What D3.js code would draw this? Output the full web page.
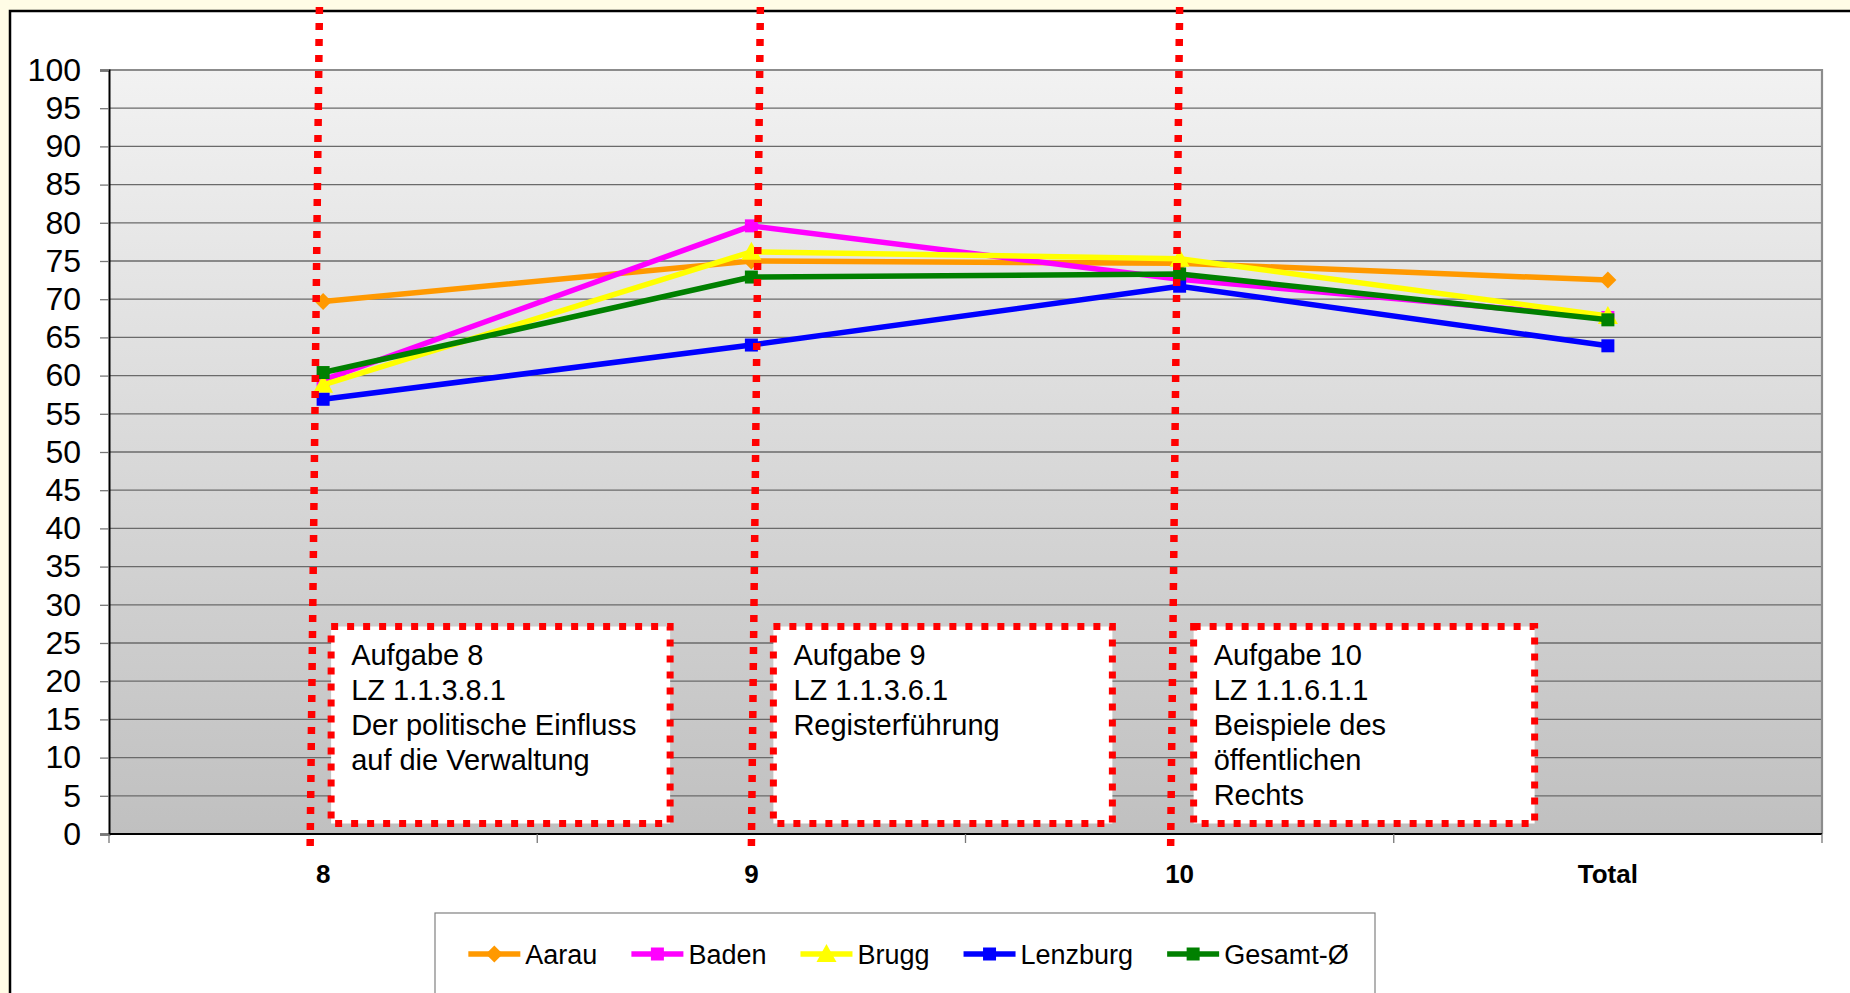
<!DOCTYPE html>
<html><head><meta charset="utf-8">
<script src="https://cdn.jsdelivr.net/npm/d3@7"></script>
<style>html,body{margin:0;padding:0;background:#fffce6;overflow:hidden}</style>
</head><body><svg id="c" width="1850" height="993"></svg>
<script>
// ---- data ----
const categories = ["8", "9", "10", "Total"];
const seriesNames = ["Aarau", "Baden", "Brugg", "Lenzburg", "Gesamt-Ø"];
const aarau    = [69.7, 75.0, 74.7, 72.5];
const baden    = [59.4, 79.6, 72.6, 67.6];
const brugg    = [58.8, 76.2, 75.3, 67.8];
const lenzburg = [56.9, 64.0, 71.7, 63.9];
const gesamt   = [60.4, 72.9, 73.3, 67.3];
const yTicks = [0,5,10,15,20,25,30,35,40,45,50,55,60,65,70,75,80,85,90,95,100];
const noteCats = ["8", "9", "10"];
const noteTexts = [
  ["Aufgabe 8", "LZ 1.1.3.8.1", "Der politische Einfluss", "auf die Verwaltung"],
  ["Aufgabe 9", "LZ 1.1.3.6.1", "Registerführung"],
  ["Aufgabe 10", "LZ 1.1.6.1.1", "Beispiele des", "öffentlichen", "Rechts"]
];

// ---- styles / layout ----
const seriesValues = [aarau, baden, brugg, lenzburg, gesamt];
const colors = ["#FF9900", "#FF00FF", "#FFFF00", "#0000FF", "#008000"];
const shapes = ["diamond", "square", "triangle", "square", "square"];
const FONT = "'Liberation Sans', Arial, Helvetica, sans-serif";
const plot = {left: 109, right: 1822, top: 70, bottom: 834};

const svg = d3.select("#c");
const x = d3.scaleBand().domain(categories).range([plot.left, plot.right]).padding(0);
const y = d3.scaleLinear().domain([0, 100]).range([plot.bottom, plot.top]);
const cx = c => x(c) + x.bandwidth() / 2;

function markerPath(shape) {
  if (shape === "diamond") return "M0,-8.5L8.5,0L0,8.5L-8.5,0Z";
  if (shape === "triangle") return "M0,-10L10,8L-10,8Z";
  return "M-6.5,-6.5H6.5V6.5H-6.5Z";
}

// frame
svg.append("rect").attr("x", 10).attr("y", 11).attr("width", 1900).attr("height", 1100)
  .attr("fill", "#ffffff").attr("stroke", "#000").attr("stroke-width", 2.5);

// gradient background
const defs = svg.append("defs");
const grad = defs.append("linearGradient").attr("id", "bg").attr("x1", 0).attr("y1", 0).attr("x2", 0).attr("y2", 1);
grad.append("stop").attr("offset", "0%").attr("stop-color", "#f2f2f2");
grad.append("stop").attr("offset", "100%").attr("stop-color", "#c0c0c0");
svg.append("rect").attr("x", plot.left).attr("y", plot.top)
  .attr("width", plot.right - plot.left).attr("height", plot.bottom - plot.top)
  .attr("fill", "url(#bg)");

// gridlines
svg.append("g").selectAll("line").data(yTicks.filter(t => t > 0 && t < 100)).join("line")
  .attr("x1", plot.left).attr("x2", plot.right)
  .attr("y1", d => y(d)).attr("y2", d => y(d))
  .attr("stroke", "#6a6a6a").attr("stroke-width", 1.3);

// top/right plot border
svg.append("path")
  .attr("d", `M${plot.left},${plot.top}H${plot.right}V${plot.bottom}`)
  .attr("fill", "none").attr("stroke", "#8c8c8c").attr("stroke-width", 2.2);

// y axis
const yAxis = d3.axisLeft(y).tickValues(yTicks).tickSize(9).tickPadding(19);
const gy = svg.append("g").attr("transform", `translate(${plot.left},0)`).call(yAxis);
gy.select(".domain").attr("stroke", "#000").attr("stroke-width", 2);
gy.selectAll(".tick line").attr("stroke", "#777").attr("stroke-width", 1.3);
gy.selectAll(".tick text").attr("font-family", FONT).attr("font-size", 32).attr("fill", "#000");

// x axis: ticks at band boundaries
svg.append("line").attr("x1", plot.left).attr("x2", plot.right)
  .attr("y1", plot.bottom).attr("y2", plot.bottom).attr("stroke", "#000").attr("stroke-width", 2);
const bounds = categories.map(c => x(c)).concat([plot.right]);
svg.append("g").selectAll("line").data(bounds).join("line")
  .attr("x1", d => d).attr("x2", d => d).attr("y1", plot.bottom).attr("y2", plot.bottom + 9)
  .attr("stroke", "#777").attr("stroke-width", 1.3);
svg.append("g").selectAll("text").data(categories).join("text")
  .attr("x", d => cx(d)).attr("y", 883).attr("text-anchor", "middle")
  .attr("font-family", FONT).attr("font-weight", "bold").attr("font-size", 26).text(d => d);

// series lines + markers
const line = d3.line().x((d, i) => cx(categories[i])).y(d => y(d));
seriesValues.forEach((vals, si) => {
  const g = svg.append("g");
  g.append("path").attr("d", line(vals)).attr("fill", "none")
    .attr("stroke", colors[si]).attr("stroke-width", 5.5).attr("stroke-linejoin", "round");
  g.selectAll("path.m").data(vals).join("path").attr("class", "m")
    .attr("transform", (d, i) => `translate(${cx(categories[i])},${y(d)})`)
    .attr("d", markerPath(shapes[si])).attr("fill", colors[si]);
});

// annotation boxes (offsets relative to category centres)
const boxOffsets = [[8, 347], [22, 361], [14, 355]];
const boxTop = 626.5, boxBottom = 823.5;
noteCats.forEach((c, i) => {
  const x0 = cx(c) + boxOffsets[i][0], x1 = cx(c) + boxOffsets[i][1];
  svg.append("rect").attr("x", x0).attr("y", boxTop).attr("width", x1 - x0).attr("height", boxBottom - boxTop)
    .attr("fill", "#fff").attr("stroke", "#FF0000").attr("stroke-width", 7).attr("stroke-dasharray", "7 9");
  const t = svg.append("text").attr("font-family", FONT).attr("font-size", 29).attr("fill", "#000");
  noteTexts[i].forEach((s, k) => {
    t.append("tspan").attr("x", x0 + 20).attr("y", 665 + k * 35).text(s);
  });
});

// vertical dotted lines
const vOffsets = [[-3.7, -13], [9, 0], [0, -9]];
noteCats.forEach((c, i) => {
  svg.append("line")
    .attr("x1", cx(c) + vOffsets[i][0]).attr("y1", 7)
    .attr("x2", cx(c) + vOffsets[i][1]).attr("y2", 848)
    .attr("stroke", "#FF0000").attr("stroke-width", 7.5).attr("stroke-dasharray", "7 9");
});

// legend
const legend = svg.append("g");
legend.append("rect").attr("x", 435).attr("y", 913).attr("width", 940).attr("height", 200)
  .attr("fill", "#fff").attr("stroke", "#808080").attr("stroke-width", 1.2);
const items = legend.append("g");
let pos = 0;
seriesNames.forEach((name, si) => {
  const it = items.append("g").attr("transform", `translate(${pos},0)`);
  it.append("line").attr("x1", 0).attr("x2", 52).attr("y1", 954).attr("y2", 954)
    .attr("stroke", colors[si]).attr("stroke-width", 5.5);
  it.append("path").attr("transform", "translate(26,954)").attr("d", markerPath(shapes[si])).attr("fill", colors[si]);
  const tx = it.append("text").attr("x", 57).attr("y", 964).attr("font-family", FONT)
    .attr("font-size", 27).attr("fill", "#000").text(name);
  pos += 57 + tx.node().getComputedTextLength() + 34;
});
const totalW = pos - 34;
items.attr("transform", `translate(${469 + (879 - totalW) / 2},0)`);
</script></body></html>
